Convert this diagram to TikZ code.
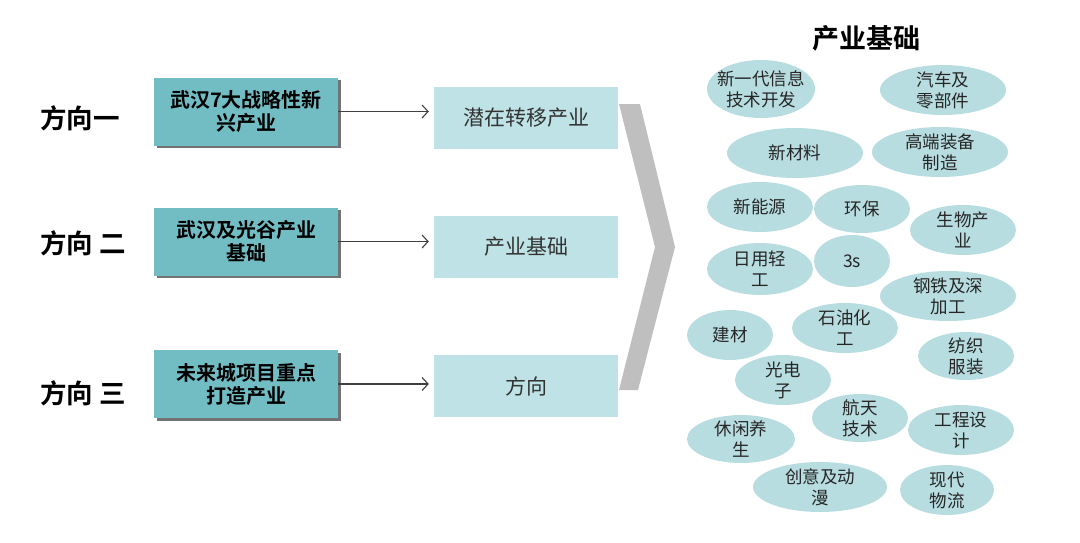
\documentclass[tikz,border=0pt]{standalone}
\usepackage{fontspec}
\setmainfont{Noto Sans CJK SC}[BoldFont={Noto Sans CJK SC Bold}]
\usetikzlibrary{positioning}
\usetikzlibrary{shadows}
\usetikzlibrary{arrows.meta}
\definecolor{tealdunkel}{RGB}{114,189,196}
\definecolor{teallicht}{RGB}{190,226,229}
\definecolor{blasefarbe}{RGB}{184,221,225}
\definecolor{keilgrau}{RGB}{191,191,191}
\tikzset{
	>={Straight Barb[length=6pt,width=13pt]},
	richtung/.style={
		anchor=west,
		inner sep=0pt,
		font=\bfseries\fontsize{26.5}{30}\selectfont},
	quelle/.style={
		rectangle,
		fill=tealdunkel,
		minimum width=184pt,
		minimum height=68pt,
		align=center,
		font=\bfseries\fontsize{20}{23}\selectfont,
		drop shadow={shadow xshift=2.5pt, shadow yshift=-2.5pt, fill=black!55, opacity=1}},
	ziel/.style={
		rectangle,
		fill=teallicht,
		minimum width=184pt,
		minimum height=62pt,
		text=black!80,
		font=\fontsize{21}{24}\selectfont},
	line/.style={draw, black!75, line width=1.1pt, ->, shorten >=5pt},
	blasetext/.style={
		align=center,
		inner sep=0pt,
		text=black!85,
		font=\fontsize{17.5}{21}\selectfont},
}
% name, centre, half width, half height, text
\newcommand{\blase}[5]{%
	\fill[blasefarbe] (#2) ellipse ({#3pt} and {#4pt});
	\node[blasetext] (#1) at (#2) {#5};}

\begin{document}
\begin{tikzpicture}[x=1pt, y=-1pt]
	\useasboundingbox (0,0) rectangle (1080,542);
	% left column
	\node[richtung] (r1) at (40,118) {方向一};
	\node[richtung] (r2) at (40,243) {方向 二};
	\node[richtung] (r3) at (40,393) {方向 三};
	\node[quelle] (eins) at (246,111.5) {武汉7大战略性新\\兴产业};
	\node[quelle] (zwei) at (246,241.5) {武汉及光谷产业\\基础};
	\node[quelle] (drei) at (246,384) {未来城项目重点\\打造产业};
	\node[ziel] (z1) at (526,117.5) {潜在转移产业};
	\node[ziel] (z2) at (526,247) {产业基础};
	\node[ziel] (z3) at (526,386) {方向};
	\draw[line] (eins.east) -- (eins.east -| z1.west);
	\draw[line] (zwei.east) -- (zwei.east -| z2.west);
	\draw[line] (drei.east) -- (drei.east -| z3.west);
	% chevron
	\fill[keilgrau] (619,104) -- (640,104) -- (675,247) -- (638,390)
		-- (619,390) -- (655,247) -- cycle;
	% right side
	\node[font=\bfseries\fontsize{27}{30}\selectfont] (titel) at (866,38) {产业基础};
	\blase{b1}{761,89}{54}{29}{新一代信息\\技术开发}
	\blase{b2}{943,90}{63}{25}{汽车及\\零部件}
	\blase{b3}{795,153}{68}{25}{新材料}
	\blase{b4}{940,152}{68}{25}{高端装备\\制造}
	\blase{b5}{760,207}{53}{25}{新能源}
	\blase{b6}{862,209}{48}{24}{环保}
	\blase{b7}{963,230}{53}{25}{生物产\\业}
	\blase{b8}{760,269}{53}{26}{日用轻\\工}
	\blase{b9}{852,261}{38}{26}{3s}
	\blase{b10}{948,296}{68}{25}{钢铁及深\\加工}
	\blase{b11}{845,328}{53}{25}{石油化\\工}
	\blase{b12}{730,335}{43}{25}{建材}
	\blase{b13}{966,356}{48}{24}{纺织\\服装}
	\blase{b14}{783,380}{48}{25}{光电\\子}
	\blase{b15}{860,418}{48}{24}{航天\\技术}
	\blase{b16}{741,439}{54}{24}{休闲养\\生}
	\blase{b17}{961,430}{53}{25}{工程设\\计}
	\blase{b18}{820,487}{67}{25}{创意及动\\漫}
	\blase{b19}{947,490}{47}{25}{现代\\物流}
\end{tikzpicture}
\end{document}
